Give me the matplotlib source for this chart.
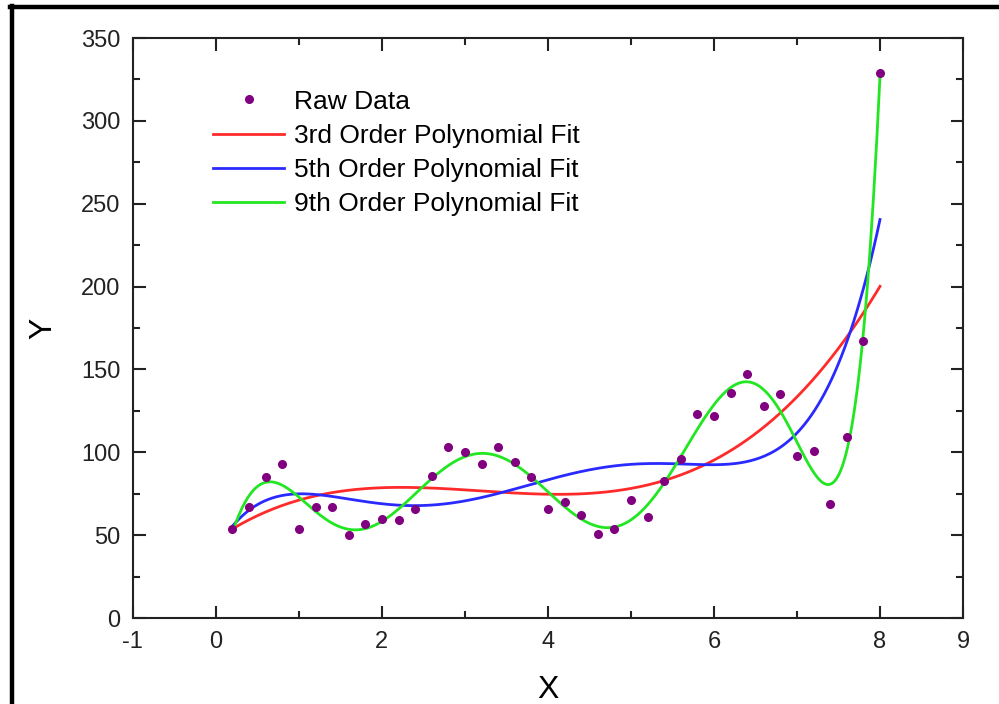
import numpy as np
import matplotlib.pyplot as plt
from matplotlib.lines import Line2D

# raw data
x_raw = [0.2, 0.4, 0.6, 0.8, 1.0, 1.2, 1.4, 1.6, 1.8, 2.0,
         2.2, 2.4, 2.6, 2.8, 3.0, 3.2, 3.4, 3.6, 3.8, 4.0,
         4.2, 4.4, 4.6, 4.8, 5.0, 5.2, 5.4, 5.6, 5.8, 6.0,
         6.2, 6.4, 6.6, 6.8, 7.0, 7.2, 7.4, 7.6, 7.8, 8.0]
y_raw = [54, 67, 85, 93, 54, 67, 67, 50, 57, 60,
         59, 66, 86, 103, 100, 93, 103, 94, 85, 66,
         70, 62, 51, 54, 71, 61, 83, 96, 123, 122,
         136, 147, 128, 135, 98, 101, 69, 109, 167, 329]
orders = [3, 5, 9]
fit_labels = ['3rd Order Polynomial Fit', '5th Order Polynomial Fit', '9th Order Polynomial Fit']
fit_colors = ['#ff2a2a', '#2a2aff', '#22e622']
x_ticks = [-1, 0, 2, 4, 6, 8, 9]
y_ticks = [0, 50, 100, 150, 200, 250, 300, 350]

plt.rcParams['font.family'] = ['Liberation Sans', 'DejaVu Sans']
plt.rcParams['axes.unicode_minus'] = False

fig = plt.figure(figsize=(9.99, 7.04), dpi=100)
ax = fig.add_axes([0.133, 0.122, 0.831, 0.824])

xs = np.linspace(min(x_raw), max(x_raw), 400)
for n, lab, c in zip(orders, fit_labels, fit_colors):
    p = np.polyfit(x_raw, y_raw, n)
    ax.plot(xs, np.polyval(p, xs), color=c, lw=2.0, label=lab, zorder=2)
ax.plot(x_raw, y_raw, 'o', color='#800080', ms=5.5, zorder=3, label='Raw Data')

ax.set_xlim(-1, 9)
ax.set_ylim(0, 350)
ax.set_xticks(x_ticks)
ax.set_yticks(y_ticks)
ax.set_xticks([1, 3, 5, 7], minor=True)
ax.set_yticks(np.arange(25, 350, 50), minor=True)
ax.tick_params(which='both', direction='in', top=True, right=True,
               labelsize=17, colors='#222222', width=1.5)
ax.tick_params(which='major', length=9, pad=9)
ax.tick_params(which='minor', length=5)
for s in ax.spines.values():
    s.set_linewidth(1.5)
    s.set_color('#222222')

ax.set_xlabel('X', fontsize=23, labelpad=16)
ax.set_ylabel('Y', fontsize=23, labelpad=16)

h, l = ax.get_legend_handles_labels()
order = [3, 0, 1, 2]
ax.legend([h[i] for i in order], [l[i] for i in order], loc='upper left',
          bbox_to_anchor=(0.068, 0.952), frameon=False, fontsize=19,
          handlelength=2.7, handletextpad=0.35, labelspacing=0.39)

# outer frame around the chart
fig.add_artist(Line2D([0.01, 1.0], [0.99, 0.99], color='black', lw=3.2, transform=fig.transFigure))
fig.add_artist(Line2D([0.012, 0.012], [0.0, 0.992], color='black', lw=3.2, transform=fig.transFigure))

fig.savefig('out.png', dpi=100)
